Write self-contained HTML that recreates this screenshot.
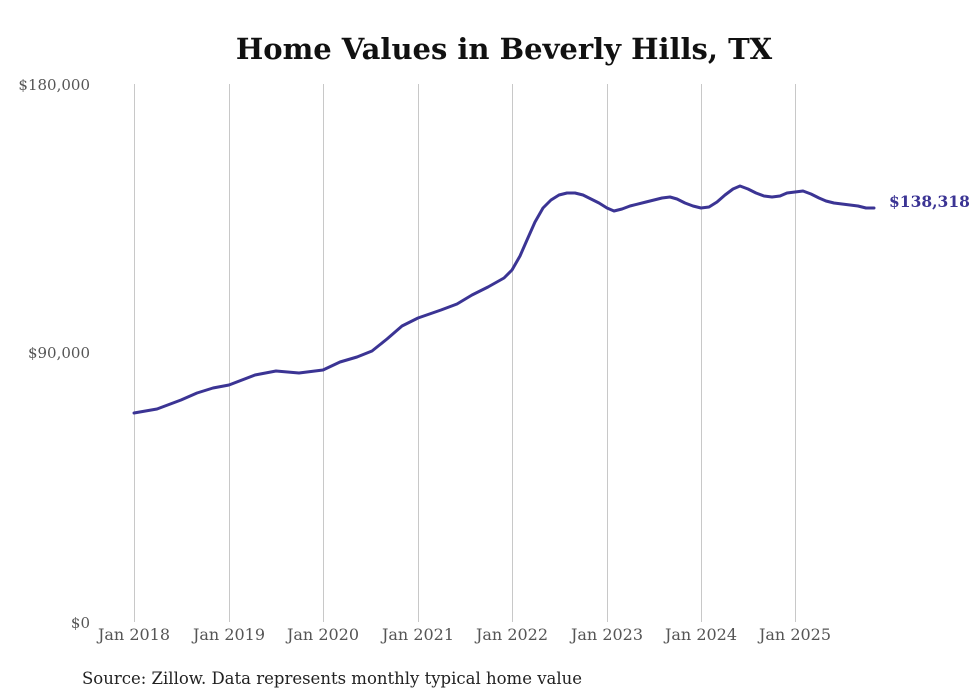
<!DOCTYPE html>
<html><head><meta charset="utf-8"><style>
html,body{margin:0;padding:0;background:#fff;}
svg{display:block;}
</style></head><body>
<svg width="980" height="699" viewBox="0 0 980 699" xmlns="http://www.w3.org/2000/svg">
<rect width="980" height="699" fill="#fff"/>
<text x="504" y="59" text-anchor="middle" font-family="'DejaVu Serif','Liberation Serif',serif" font-weight="bold" font-size="29" fill="#111">Home Values in Beverly Hills, TX</text>
<g stroke="#c8c8c8" stroke-width="1">
<line x1="134.5" y1="84" x2="134.5" y2="622"/>
<line x1="229.5" y1="84" x2="229.5" y2="622"/>
<line x1="323.5" y1="84" x2="323.5" y2="622"/>
<line x1="418.5" y1="84" x2="418.5" y2="622"/>
<line x1="512.5" y1="84" x2="512.5" y2="622"/>
<line x1="607.5" y1="84" x2="607.5" y2="622"/>
<line x1="701.5" y1="84" x2="701.5" y2="622"/>
<line x1="795.5" y1="84" x2="795.5" y2="622"/>
</g>
<g font-family="'DejaVu Serif','Liberation Serif',serif" font-size="15" fill="#555">
<text x="90" y="90" text-anchor="end">$180,000</text>
<text x="90" y="358" text-anchor="end">$90,000</text>
<text x="90" y="628" text-anchor="end">$0</text>
<g text-anchor="middle" font-size="16">
<text x="134" y="640">Jan 2018</text>
<text x="229" y="640">Jan 2019</text>
<text x="323" y="640">Jan 2020</text>
<text x="418" y="640">Jan 2021</text>
<text x="512" y="640">Jan 2022</text>
<text x="607" y="640">Jan 2023</text>
<text x="701" y="640">Jan 2024</text>
<text x="795" y="640">Jan 2025</text>
</g></g>
<polyline fill="none" stroke="#3b3494" stroke-width="3" stroke-linejoin="round" stroke-linecap="round" points="134,413 157,409 181,400 197,393 213,388 229,385 255,375 276,371 299,373 323,370 340,362 357,357 372,351 387,339 402,326 418,318 441,310 457,304 472,295 488,287 504,278 512,270 520,256 527,240 535,222 543,208 551,200 559,195 567,193 575,193 583,195 591,199 599,203 607,208 614,211 622,209 630,206 646,202 654,200 662,198 670,197 677,199 685,203 693,206 701,208 709,207 717,202 725,195 733,189 740,186 748,189 756,193 764,196 772,197 780,196 787,193 795,192 803,191 811,194 819,198 826,201 834,203 842,204 850,205 858,206 866,208 874,208"/>
<text x="889" y="207" font-family="'DejaVu Serif','Liberation Serif',serif" font-weight="bold" font-size="15.5" fill="#3b3494">$138,318</text>
<text x="82" y="684" font-family="'DejaVu Serif','Liberation Serif',serif" font-size="16.5" fill="#222">Source: Zillow. Data represents monthly typical home value</text>
</svg>
</body></html>
